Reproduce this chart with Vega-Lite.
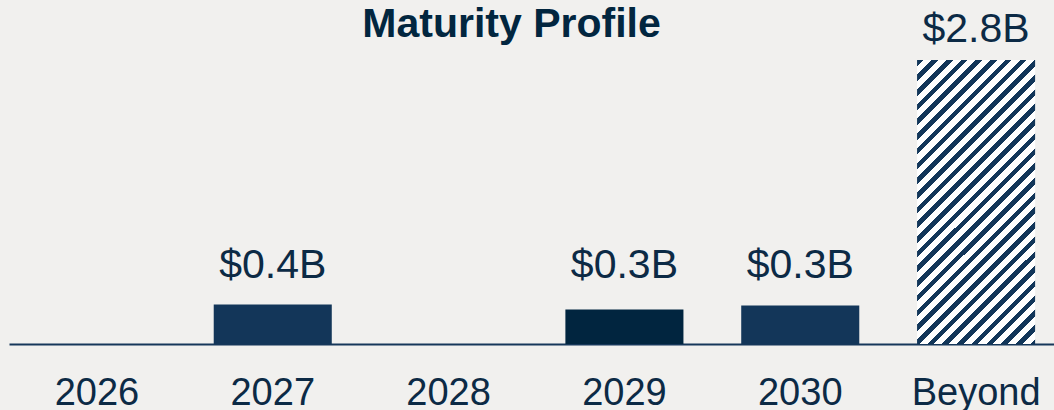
{
  "$schema": "https://vega.github.io/schema/vega-lite/v6.json",
  "width": 1045,
  "height": 284,
  "autosize": {"type": "none"},
  "padding": {"left": 9, "top": 60, "right": 0, "bottom": 66},
  "background": "#f1f0ee",
  "title": {
    "text": "Maturity Profile",
    "font": "Liberation Sans",
    "fontSize": 41,
    "fontWeight": "bold",
    "color": "#02263f",
    "anchor": "middle",
    "frame": "group",
    "baseline": "alphabetic",
    "dx": -20,
    "dy": 69,
    "offset": 0
  },
  "config": {"view": {"stroke": null}},
  "data": {
    "values": [
      {"year": "2026", "value": 0, "label": null},
      {"year": "2027", "value": 0.39, "label": "$0.4B"},
      {"year": "2028", "value": 0, "label": null},
      {"year": "2029", "value": 0.34, "label": "$0.3B"},
      {"year": "2030", "value": 0.38, "label": "$0.3B"},
      {"year": "Beyond", "value": 2.8, "label": "$2.8B"}
    ]
  },
  "encoding": {
    "x": {
      "field": "year",
      "type": "nominal",
      "sort": null,
      "scale": {"domain": ["2026", "2027", "2028", "2029", "2030", "Beyond"], "range": [0, 1055], "paddingInner": 0.3286, "paddingOuter": 0.1643},
      "axis": {
        "title": null,
        "ticks": false,
        "labelAngle": 0,
        "labelFont": "Liberation Sans",
        "labelFontSize": 38,
        "labelColor": "#0c2a45",
        "labelBaseline": "alphabetic",
        "labelPadding": 60,
        "domainColor": "#16375a",
        "domainWidth": 2,
        "grid": false
      }
    }
  },
  "layer": [
    {
      "transform": [{"filter": "datum.year != 'Beyond'"}],
      "mark": {"type": "bar"},
      "encoding": {
        "y": {"field": "value", "type": "quantitative", "scale": {"domain": [0, 2.8], "nice": false}, "axis": null},
        "color": {
          "condition": {"test": "datum.year == '2029'", "value": "#01253f"},
          "value": "#133659"
        }
      }
    },
    {
      "transform": [{"filter": "datum.year == 'Beyond'"}],
      "mark": {
        "type": "bar",
        "color": {
          "gradient": "linear",
          "x1": 0, "y1": 0, "x2": 0.5138, "y2": 1.2367,
          "stops": [
            {"offset": 0, "color": "#123659"}, {"offset": 0.016, "color": "#123659"}, {"offset": 0.016, "color": "#ffffff"}, {"offset": 0.0357, "color": "#ffffff"},
            {"offset": 0.0357, "color": "#123659"}, {"offset": 0.0517, "color": "#123659"}, {"offset": 0.0517, "color": "#ffffff"}, {"offset": 0.0714, "color": "#ffffff"},
            {"offset": 0.0714, "color": "#123659"}, {"offset": 0.0874, "color": "#123659"}, {"offset": 0.0874, "color": "#ffffff"}, {"offset": 0.1071, "color": "#ffffff"},
            {"offset": 0.1071, "color": "#123659"}, {"offset": 0.1231, "color": "#123659"}, {"offset": 0.1231, "color": "#ffffff"}, {"offset": 0.1429, "color": "#ffffff"},
            {"offset": 0.1429, "color": "#123659"}, {"offset": 0.1589, "color": "#123659"}, {"offset": 0.1589, "color": "#ffffff"}, {"offset": 0.1786, "color": "#ffffff"},
            {"offset": 0.1786, "color": "#123659"}, {"offset": 0.1946, "color": "#123659"}, {"offset": 0.1946, "color": "#ffffff"}, {"offset": 0.2143, "color": "#ffffff"},
            {"offset": 0.2143, "color": "#123659"}, {"offset": 0.2303, "color": "#123659"}, {"offset": 0.2303, "color": "#ffffff"}, {"offset": 0.25, "color": "#ffffff"},
            {"offset": 0.25, "color": "#123659"}, {"offset": 0.266, "color": "#123659"}, {"offset": 0.266, "color": "#ffffff"}, {"offset": 0.2857, "color": "#ffffff"},
            {"offset": 0.2857, "color": "#123659"}, {"offset": 0.3017, "color": "#123659"}, {"offset": 0.3017, "color": "#ffffff"}, {"offset": 0.3214, "color": "#ffffff"},
            {"offset": 0.3214, "color": "#123659"}, {"offset": 0.3374, "color": "#123659"}, {"offset": 0.3374, "color": "#ffffff"}, {"offset": 0.3571, "color": "#ffffff"},
            {"offset": 0.3571, "color": "#123659"}, {"offset": 0.3731, "color": "#123659"}, {"offset": 0.3731, "color": "#ffffff"}, {"offset": 0.3929, "color": "#ffffff"},
            {"offset": 0.3929, "color": "#123659"}, {"offset": 0.4089, "color": "#123659"}, {"offset": 0.4089, "color": "#ffffff"}, {"offset": 0.4286, "color": "#ffffff"},
            {"offset": 0.4286, "color": "#123659"}, {"offset": 0.4446, "color": "#123659"}, {"offset": 0.4446, "color": "#ffffff"}, {"offset": 0.4643, "color": "#ffffff"},
            {"offset": 0.4643, "color": "#123659"}, {"offset": 0.4803, "color": "#123659"}, {"offset": 0.4803, "color": "#ffffff"}, {"offset": 0.5, "color": "#ffffff"},
            {"offset": 0.5, "color": "#123659"}, {"offset": 0.516, "color": "#123659"}, {"offset": 0.516, "color": "#ffffff"}, {"offset": 0.5357, "color": "#ffffff"},
            {"offset": 0.5357, "color": "#123659"}, {"offset": 0.5517, "color": "#123659"}, {"offset": 0.5517, "color": "#ffffff"}, {"offset": 0.5714, "color": "#ffffff"},
            {"offset": 0.5714, "color": "#123659"}, {"offset": 0.5874, "color": "#123659"}, {"offset": 0.5874, "color": "#ffffff"}, {"offset": 0.6071, "color": "#ffffff"},
            {"offset": 0.6071, "color": "#123659"}, {"offset": 0.6231, "color": "#123659"}, {"offset": 0.6231, "color": "#ffffff"}, {"offset": 0.6429, "color": "#ffffff"},
            {"offset": 0.6429, "color": "#123659"}, {"offset": 0.6589, "color": "#123659"}, {"offset": 0.6589, "color": "#ffffff"}, {"offset": 0.6786, "color": "#ffffff"},
            {"offset": 0.6786, "color": "#123659"}, {"offset": 0.6946, "color": "#123659"}, {"offset": 0.6946, "color": "#ffffff"}, {"offset": 0.7143, "color": "#ffffff"},
            {"offset": 0.7143, "color": "#123659"}, {"offset": 0.7303, "color": "#123659"}, {"offset": 0.7303, "color": "#ffffff"}, {"offset": 0.75, "color": "#ffffff"},
            {"offset": 0.75, "color": "#123659"}, {"offset": 0.766, "color": "#123659"}, {"offset": 0.766, "color": "#ffffff"}, {"offset": 0.7857, "color": "#ffffff"},
            {"offset": 0.7857, "color": "#123659"}, {"offset": 0.8017, "color": "#123659"}, {"offset": 0.8017, "color": "#ffffff"}, {"offset": 0.8214, "color": "#ffffff"},
            {"offset": 0.8214, "color": "#123659"}, {"offset": 0.8374, "color": "#123659"}, {"offset": 0.8374, "color": "#ffffff"}, {"offset": 0.8571, "color": "#ffffff"},
            {"offset": 0.8571, "color": "#123659"}, {"offset": 0.8731, "color": "#123659"}, {"offset": 0.8731, "color": "#ffffff"}, {"offset": 0.8929, "color": "#ffffff"},
            {"offset": 0.8929, "color": "#123659"}, {"offset": 0.9089, "color": "#123659"}, {"offset": 0.9089, "color": "#ffffff"}, {"offset": 0.9286, "color": "#ffffff"},
            {"offset": 0.9286, "color": "#123659"}, {"offset": 0.9446, "color": "#123659"}, {"offset": 0.9446, "color": "#ffffff"}, {"offset": 0.9643, "color": "#ffffff"},
            {"offset": 0.9643, "color": "#123659"}, {"offset": 0.9803, "color": "#123659"}, {"offset": 0.9803, "color": "#ffffff"}, {"offset": 1, "color": "#ffffff"}
          ]
        }
      },
      "encoding": {
        "y": {"field": "value", "type": "quantitative", "scale": {"domain": [0, 2.8], "nice": false}, "axis": null}
      }
    },
    {
      "transform": [{"filter": "datum.label != null && datum.year != 'Beyond'"}],
      "mark": {"type": "text", "font": "Liberation Sans", "fontSize": 41, "color": "#0c2a45", "baseline": "alphabetic", "align": "center"},
      "encoding": {
        "y": {"datum": 0.65, "type": "quantitative"},
        "text": {"field": "label", "type": "nominal"}
      }
    },
    {
      "transform": [{"filter": "datum.year == 'Beyond'"}],
      "mark": {"type": "text", "font": "Liberation Sans", "fontSize": 41, "color": "#0c2a45", "baseline": "alphabetic", "align": "center", "dy": -18},
      "encoding": {
        "y": {"field": "value", "type": "quantitative"},
        "text": {"field": "label", "type": "nominal"}
      }
    }
  ]
}
